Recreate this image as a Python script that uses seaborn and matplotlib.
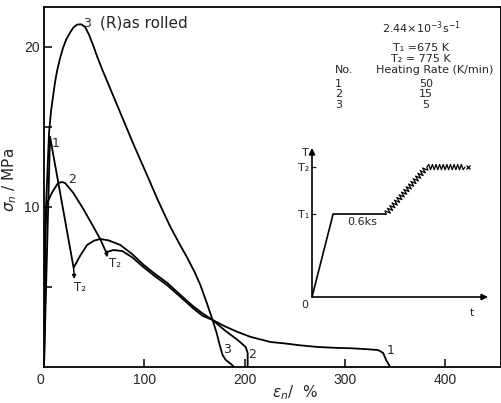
import numpy as np
import pandas as pd
import matplotlib
matplotlib.use("Agg")
import matplotlib.pyplot as plt
import seaborn as sns
from matplotlib.patheffects import AbstractPathEffect
from matplotlib.path import Path
from matplotlib.transforms import IdentityTransform

# ---------------- data ----------------
c1_strain = [0, 6, 29.5, 36, 43, 50, 56, 64, 76, 88, 99, 110, 123, 136, 149, 158,
             168, 180, 193, 206, 226, 239, 256, 273, 290, 306, 320, 333, 338, 341, 345]
c1_stress = [0, 14.4, 6.2, 6.95, 7.63, 7.9, 8.0, 7.92, 7.63, 7.05, 6.4, 5.85, 5.25,
             4.5, 3.78, 3.35, 2.94, 2.55, 2.19, 1.88, 1.56, 1.48, 1.35, 1.25, 1.2,
             1.17, 1.12, 1.06, 0.88, 0.44, 0]

c2_strain = [0, 1, 3, 8, 14, 18, 21, 29, 39, 48, 56, 61, 62, 66, 69, 78, 88, 99, 110,
             123, 136, 149, 158, 168, 180, 193, 201, 203, 203]
c2_stress = [0, 8.5, 10.25, 10.9, 11.5, 11.56, 11.5, 10.9, 9.9, 8.9, 8.0, 7.3, 7.19,
             7.25, 7.31, 7.25, 6.85, 6.25, 5.7, 5.1, 4.38, 3.65, 3.2, 2.94, 2.3, 1.69,
             1.25, 0.875, 0]

c3_strain = [0, 2, 5, 7, 9, 11, 13, 16, 19, 22, 26, 29, 33, 37, 41, 45, 49, 53, 58,
             63, 68, 73, 79, 89, 96, 103, 113, 120, 126, 135, 143, 150, 156, 162,
             168, 172, 175, 178, 181, 185, 188, 189]
c3_stress = [0, 10, 14.6, 16.0, 16.9, 17.8, 18.5, 19.3, 19.95, 20.45, 20.9, 21.2,
             21.4, 21.42, 21.25, 20.75, 20.1, 19.4, 18.6, 17.85, 17.1, 16.35, 15.45,
             13.95, 12.95, 11.95, 10.5, 9.55, 8.75, 7.7, 6.8, 5.95, 5.1, 4.05, 2.94,
             2.15, 1.4, 0.75, 0.45, 0.25, 0.1, 0]

curve_ids = ["1", "2", "3"]
heating_rates = ["50", "15", "5"]

x_ticks = [0, 100, 200, 300, 400]
y_ticks = [10, 20]
y_minor_ticks = [5, 15]

# T2 markers: (curve point, arrow tip)
t2_from = [(29.5, 6.2), (62, 7.19)]
t2_to = [(30.2, 5.5), (63, 6.85)]

# inset schematic (normalised time / temperature)
profile_t = [0, 0.12, 0.42]
profile_T = [0, 0.557, 0.557]
zigzag_t = [0.42, 0.653, 0.869]
zigzag_T = [0.557, 0.872, 0.872]
T_levels = [0.557, 0.872]
T_labels = ["T₁", "T₂"]


class ZigZag(AbstractPathEffect):
    """Draw the path as a zig-zag line (style only)."""

    def __init__(self, amplitude=1.9, wavelength=2.6):
        super().__init__()
        self._amp = amplitude
        self._wl = wavelength

    def draw_path(self, renderer, gc, tpath, affine, rgbFace=None):
        pts = affine.transform(tpath.vertices)
        amp = renderer.points_to_pixels(self._amp)
        half = renderer.points_to_pixels(self._wl) / 2.0
        out = [pts[0]]
        for p0, p1 in zip(pts[:-1], pts[1:]):
            d = p1 - p0
            L = float(np.hypot(*d))
            if L == 0:
                continue
            u = d / L
            nrm = np.array([-u[1], u[0]])
            n = max(int(round(L / half)), 1)
            for k in range(1, n):
                s = k / n * L
                sign = 1 if k % 2 else -1
                out.append(p0 + u * s + nrm * amp * sign)
            out.append(p1)
        renderer.draw_path(gc, Path(np.array(out)), IdentityTransform(), None)


sns.set_style("ticks")
plt.rcParams["font.family"] = ["DejaVu Sans"]
plt.rcParams["axes.edgecolor"] = "black"
plt.rcParams["axes.linewidth"] = 1.3

df = pd.concat([
    pd.DataFrame({"strain": c1_strain, "stress": c1_stress, "curve": "1"}),
    pd.DataFrame({"strain": c2_strain, "stress": c2_stress, "curve": "2"}),
    pd.DataFrame({"strain": c3_strain, "stress": c3_stress, "curve": "3"}),
], ignore_index=True)

fig = plt.figure(figsize=(5.02, 4.03), dpi=100)
ax = fig.add_axes([44 / 502, 36 / 403, 457 / 502, 360 / 403])

sns.lineplot(data=df, x="strain", y="stress", units="curve", estimator=None,
             sort=False, color="black", lw=1.3, ax=ax, legend=False)

ax.set_xlim(0, 455.5)
ax.set_ylim(0, 22.5)
ax.set_xticks(x_ticks)
ax.set_xticklabels([str(v) for v in x_ticks])
ax.set_yticks(y_ticks)
ax.set_yticklabels([str(v) for v in y_ticks])
ax.set_yticks(y_minor_ticks, minor=True)
ax.tick_params(which="both", direction="in", length=6, width=1.1, color="black")
ax.tick_params(axis="x", labelsize=10, pad=4)
ax.tick_params(axis="y", labelsize=10, pad=3)
for lab in ax.get_xticklabels():
    lab.set_fontfamily("Liberation Sans")
for lab in ax.get_yticklabels():
    lab.set_fontfamily("Liberation Sans")
ax.get_xticklabels()[0].set_horizontalalignment("right")

ax.set_xlabel(r"$\varepsilon_n$/  %", fontsize=11)
ax.xaxis.set_label_coords(0.55, -0.045)
ax.set_ylabel(r"$\sigma_n$ / MPa", fontsize=11)
ax.yaxis.set_label_coords(-0.055, 0.52)

# curve numbers
ax.text(42.4, 21.44, "3", fontsize=9, ha="center", va="center")
ax.text(12, 13.94, "1", fontsize=9, ha="center", va="center")
ax.text(28, 11.69, "2", fontsize=9, ha="center", va="center")
ax.text(182.4, 1.12, "3", fontsize=9, ha="center", va="center")
ax.text(207.8, 0.81, "2", fontsize=9, ha="center", va="center")
ax.text(345, 1.06, "1", fontsize=9, ha="center", va="center")

# T2 markers
for (x0, y0), (x1, y1), (tx, ty) in zip(t2_from, t2_to, [(35.9, 4.94), (70.8, 6.44)]):
    ax.annotate("", xy=(x1, y1), xytext=(x0, y0),
                arrowprops=dict(arrowstyle="-|>", color="black", lw=1.1,
                                mutation_scale=5, shrinkA=0, shrinkB=0))
    ax.text(tx, ty, "T₂", fontsize=8.5, ha="center", va="center")

ax.text(56, 21.5, "(R)as rolled", fontsize=11, ha="left", va="center")

# condition block
ax.text(375.8, 21.19, r"2.44$\times$10$^{-3}$s$^{-1}$", fontsize=8, ha="center", va="center")
ax.text(375.8, 19.94, "T₁ =675 K", fontsize=8, ha="center", va="center")
ax.text(375.8, 19.25, "T₂ = 775 K", fontsize=8, ha="center", va="center")
ax.text(290, 18.56, "No.", fontsize=8, ha="left", va="center")
ax.text(389.7, 18.56, "Heating Rate (K/min)", fontsize=8, ha="center", va="center")
for cid, rate, yy in zip(curve_ids, heating_rates, [17.69, 17.06, 16.38]):
    ax.text(293.5, yy, cid, fontsize=8, ha="center", va="center")
    ax.text(380.7, yy, rate, fontsize=8, ha="center", va="center")

# ---------------- inset T-t schematic ----------------
axin = fig.add_axes([312 / 502, (403 - 297) / 403, 176 / 502, 149 / 403])
axin.set_xlim(0, 1)
axin.set_ylim(0, 1)
axin.patch.set_alpha(0)
for s in axin.spines.values():
    s.set_visible(False)
sns.lineplot(x=profile_t, y=profile_T, color="black", lw=1.2, ax=axin,
             estimator=None, sort=False)
sns.lineplot(x=zigzag_t, y=zigzag_T, color="black", lw=0.9, ax=axin,
             estimator=None, sort=False, path_effects=[ZigZag()])
axin.plot([0.886], [0.872], marker="x", ms=3.5, mew=0.9, color="black", clip_on=False)
axin.annotate("", xy=(1, 0), xytext=(0, 0),
              arrowprops=dict(arrowstyle="-|>", color="black", lw=1.2,
                              mutation_scale=9, shrinkA=0, shrinkB=0))
axin.annotate("", xy=(0, 1), xytext=(0, 0),
              arrowprops=dict(arrowstyle="-|>", color="black", lw=1.2,
                              mutation_scale=9, shrinkA=0, shrinkB=0))
axin.set_xticks([])
axin.set_yticks(T_levels)
axin.set_yticklabels(T_labels)
axin.tick_params(axis="y", direction="in", length=3, width=0.9, labelsize=8, pad=2)
axin.set_xlabel("")
axin.set_ylabel("")
axin.text(0.284, 0.503, "0.6ks", fontsize=8, ha="center", va="center")
axin.text(-0.04, 0.966, "T", fontsize=8, ha="center", va="center")
axin.text(0.91, -0.107, "t", fontsize=8, ha="center", va="center")
axin.text(-0.04, -0.055, "0", fontsize=8, ha="center", va="center")

fig.savefig("out.png", dpi=100)
